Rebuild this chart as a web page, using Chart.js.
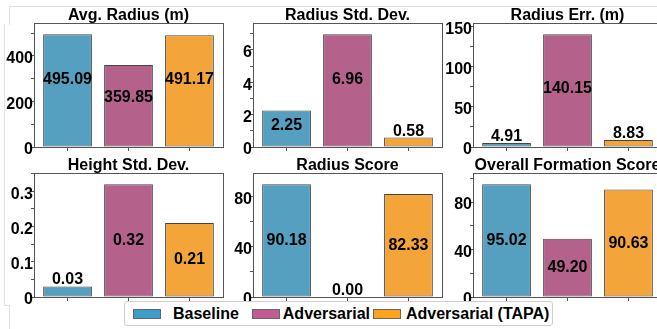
<!DOCTYPE html>
<html lang="en">
<head>
<meta charset="UTF-8">
<title>Formation metrics</title>
<style>
  body { margin: 0; width: 657px; height: 329px; overflow: hidden; background: #fff; position: relative;
         font-family: 'Liberation Sans', Arial, sans-serif; }
  .panel { position: absolute; width: 229px; height: 153px; }
  .edge { position: absolute; border-color: #e2e2e2; border-style: solid; border-width: 0; }
  #legend { position: absolute; left: 124px; top: 301px; width: 427px; height: 23px; border: 1px solid #cfcfcf;
            border-radius: 3px; background: #fff; display: flex; align-items: center; font-weight: bold; font-size: 16px; }
  #legend .patch { display: inline-block; width: 26px; height: 8px; border: 1px solid #666; }
  #legend .item { display: flex; align-items: center; white-space: nowrap; }
  #legend .item:nth-child(1) { margin-left: 8px; }
  #legend .item:nth-child(1) .patch { margin-right: 12px; }
  #legend .item:nth-child(2) { margin-left: 13px; }
  #legend .item:nth-child(2) .patch { margin-right: 3px; }
  #legend .item:nth-child(3) { margin-left: 3px; }
  #legend .item:nth-child(3) .patch { margin-right: 5px; }
</style>
</head>
<body>
<div class="edge" style="left:9px;top:6px;width:660px;height:18px;border-top-width:1px;border-left-width:1px"></div>
<div class="edge" style="left:4px;top:24px;height:281px;border-left-width:1px"></div>
<div class="edge" style="left:4px;top:305px;width:5px;border-top-width:1px"></div>
<div class="edge" style="left:9px;top:305px;height:30px;border-left-width:1px"></div>

<div id="charts"></div>
<div id="legend"></div>

<script src="https://cdn.jsdelivr.net/npm/chart.js"></script>
<script>
// categories (one bar each)
const categories = ['Baseline', 'Adversarial', 'Adversarial (TAPA)'];

// panel titles
const titles = ['Avg. Radius (m)', 'Radius Std. Dev.', 'Radius Err. (m)',
                'Height Std. Dev.', 'Radius Score', 'Overall Formation Score'];

// values per panel, in category order
const avgRadius    = [495.09, 359.85, 491.17];
const radiusStd    = [2.25, 6.96, 0.58];
const radiusErr    = [4.91, 140.15, 8.83];
const heightStd    = [0.03, 0.32, 0.21];
const radiusScore  = [90.18, 0.00, 82.33];
const overallScore = [95.02, 49.20, 90.63];

// y tick spacing per panel (only every other tick is labelled)
const tickSteps = [100, 1, 25, 0.05, 20, 20];

const panelValues = [avgRadius, radiusStd, radiusErr, heightStd, radiusScore, overallScore];

const barColors = ['#55A0C0', '#B4628C', '#F4A53A'];
const legendColors = ['#3C9EC6', '#C25A95', '#FFA41A'];

const FONT = "'Liberation Sans', Arial, sans-serif";
Chart.defaults.font.family = FONT;

// layout of the 2x3 grid (canvas corners)
const colLeft = [0, 219, 439];
const rowTop = [8, 158];
// where the value text sits inside tall bars, as a share of bar height
const labelFrac = [0.6, 0.6, 0.52, 0.5, 0.5, 0.5];

const framePlugin = {
  id: 'frame',
  afterDraw(chart) {
    const { ctx, chartArea: a } = chart;
    ctx.save();
    ctx.strokeStyle = '#555';
    ctx.lineWidth = 1;
    ctx.strokeRect(Math.round(a.left) + 0.5, Math.round(a.top) + 0.5,
                   Math.round(a.right - a.left), Math.round(a.bottom - a.top));
    ctx.restore();
  }
};

const valuePlugin = {
  id: 'values',
  afterDatasetsDraw(chart, args, opts) {
    const meta = chart.getDatasetMeta(0);
    const ys = chart.scales.y;
    const ctx = chart.ctx;
    ctx.save();
    ctx.font = 'bold 16px ' + FONT;
    ctx.fillStyle = '#000';
    ctx.textAlign = 'center';
    meta.data.forEach((bar, i) => {
      const v = chart.data.datasets[0].data[i].y;
      const text = v.toFixed(2);
      if (v / ys.max > 0.15) {
        ctx.textBaseline = 'middle';
        ctx.fillText(text, bar.x, ys.getPixelForValue(v * opts.frac));
      } else {
        ctx.textBaseline = 'alphabetic';
        ctx.fillText(text, bar.x, bar.y - 2);
      }
    });
    ctx.restore();
  }
};

const fmt = v => String(+v.toFixed(4));

panelValues.forEach((vals, p) => {
  const div = document.createElement('div');
  div.className = 'panel';
  div.style.left = colLeft[p % 3] + 'px';
  div.style.top = rowTop[Math.floor(p / 3)] + 'px';
  const canvas = document.createElement('canvas');
  div.appendChild(canvas);
  document.getElementById('charts').appendChild(div);

  const ymax = Math.max(...vals) * 1.1;
  const step = tickSteps[p];

  new Chart(canvas, {
    type: 'bar',
    data: {
      datasets: [{
        data: vals.map((v, i) => ({ x: i, y: v })),
        backgroundColor: barColors,
        borderColor: '#444',
        borderWidth: 1,
        borderSkipped: false,
        barPercentage: 0.8,
        categoryPercentage: 1
      }]
    },
    options: {
      responsive: true,
      maintainAspectRatio: false,
      animation: false,
      devicePixelRatio: 1,
      layout: { padding: { left: 0, right: 6, top: 0, bottom: 0 } },
      plugins: {
        legend: { display: false },
        tooltip: { enabled: false },
        title: {
          display: true,
          text: titles[p],
          fullSize: false,
          color: '#000',
          padding: 0,
          font: { size: 16, weight: 'bold', lineHeight: '15px' }
        },
        values: { frac: labelFrac[p] }
      },
      scales: {
        x: {
          type: 'linear',
          offset: false,
          min: -0.55,
          max: 2.55,
          afterBuildTicks: s => { s.ticks = categories.map((c, i) => ({ value: i })); },
          ticks: { display: false },
          grid: { drawOnChartArea: false, offset: false, tickLength: 4, tickColor: '#555' },
          border: { display: false },
          afterFit: s => { s.height = 14; s.paddingLeft = 0; s.paddingRight = 0; }
        },
        y: {
          min: 0,
          max: ymax,
          afterBuildTicks: s => {
            const t = [];
            for (let k = 0; k * step <= ymax + 1e-9; k++) t.push({ value: +(k * step).toFixed(6) });
            s.ticks = t;
          },
          ticks: {
            autoSkip: false,
            color: '#000',
            padding: -2,
            labelOffset: 3,
            font: { size: 16, weight: 'bold' },
            callback: (v, i) => (i % 2 ? '' : fmt(v))
          },
          grid: { drawOnChartArea: false, tickLength: 3, tickColor: '#555' },
          border: { display: false },
          afterFit: s => { s.width = 34; s.paddingTop = 0; s.paddingBottom = 0; }
        }
      }
    },
    plugins: [valuePlugin, framePlugin]
  });
});

// legend across the bottom
const legend = document.getElementById('legend');
categories.forEach((c, i) => {
  const item = document.createElement('span');
  item.className = 'item';
  const patch = document.createElement('span');
  patch.className = 'patch';
  patch.style.background = legendColors[i];
  const label = document.createElement('span');
  label.textContent = c;
  item.appendChild(patch);
  item.appendChild(label);
  legend.appendChild(item);
});
</script>
</body>
</html>
